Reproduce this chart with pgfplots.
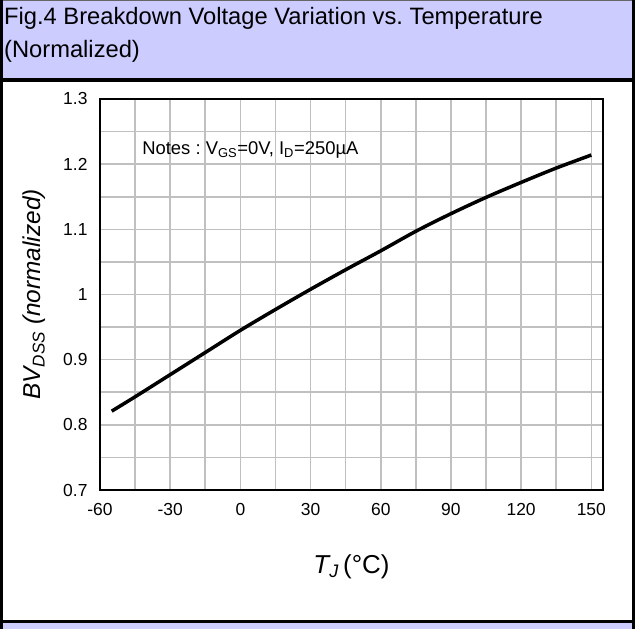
\documentclass[border=0pt]{standalone}
\usepackage{pgfplots}
\pgfplotsset{compat=1.18}
\usepackage{fontspec}
\setmainfont{Liberation Sans}
\definecolor{lav}{RGB}{204,204,255}
\definecolor{gridgray}{RGB}{192,192,192}
\begin{document}
\frenchspacing
\begin{tikzpicture}
\begin{scope}[x=1bp, y=1bp, shift={(-100bp,-139bp)}]
\useasboundingbox (0,0) rectangle (635,629);
\fill[white] (0,0) rectangle (635,629);
% title banner and frame
\fill[lav] (0,551) rectangle (635,629);
\fill[lav] (0,0) rectangle (635,6);
\draw[black!60, line width=1bp] (0,628.5) -- (635,628.5);
\draw[line width=4bp] (0,549) -- (635,549);
\draw[line width=3.5bp] (0,7.5) -- (635,7.5);
\draw[line width=3bp] (1.5,0) -- (1.5,629);
\draw[line width=3bp] (633.5,0) -- (633.5,629);
\node[anchor=base west, inner sep=0, font=\fontsize{23.8}{28}\selectfont] at (4,604)
  {Fig.4 Breakdown Voltage Variation vs. Temperature};
\node[anchor=base west, inner sep=0, font=\fontsize{23.8}{28}\selectfont] at (4,571)
  {(Normalized)};
\end{scope}
\begin{axis}[
    scale only axis, width=503bp, height=391bp,
    xmin=-60, xmax=155, ymin=0.7, ymax=1.3,
    xtick={-60,-30,...,150},
    minor xtick={-45,-15,...,135},
    ytick={0.7,0.8,...,1.3},
    minor ytick={0.75,0.85,...,1.25},
    yticklabels={0.7,0.8,0.9,1,1.1,1.2,1.3},
    grid=both,
    major grid style={gridgray, line width=1.6bp},
    minor grid style={gridgray, line width=1.6bp},
    major tick length=0pt, minor tick length=0pt,
    axis line style={black, line width=2.5bp},
    /pgf/number format/assume math mode=true,
    tick label style={font=\fontsize{17.5}{20}\selectfont},
    xticklabel style={yshift=-10bp},
    yticklabel style={xshift=-9bp},
    xlabel={\textit{T\textsubscript{J}}\,(°C)},
    xlabel style={font=\fontsize{26}{30}\selectfont, at={(axis description cs:0.5,-0.197)}, anchor=center},
    ylabel={\textit{BV\textsubscript{DSS} (normalized)}},
    ylabel style={font=\fontsize{24.5}{28}\selectfont, at={(axis description cs:-0.13,0.5)}, anchor=center},
]
\addplot[black, line width=3.5bp, smooth, tension=0.5] coordinates {
  (-55,0.821) (-45,0.843) (-30,0.877) (-15,0.911) (0,0.945) (15,0.977)
  (30,1.008) (45,1.038) (60,1.067) (75,1.097) (90,1.124) (105,1.149)
  (120,1.172) (135,1.194) (150,1.214)
};
\node[anchor=west, inner sep=0, font=\fontsize{18.5}{22}\selectfont] at (axis cs:-42,1.222)
  {Notes : V\textsubscript{GS}=0V, I\textsubscript{D}=250µA};
\end{axis}
\end{tikzpicture}
\end{document}
